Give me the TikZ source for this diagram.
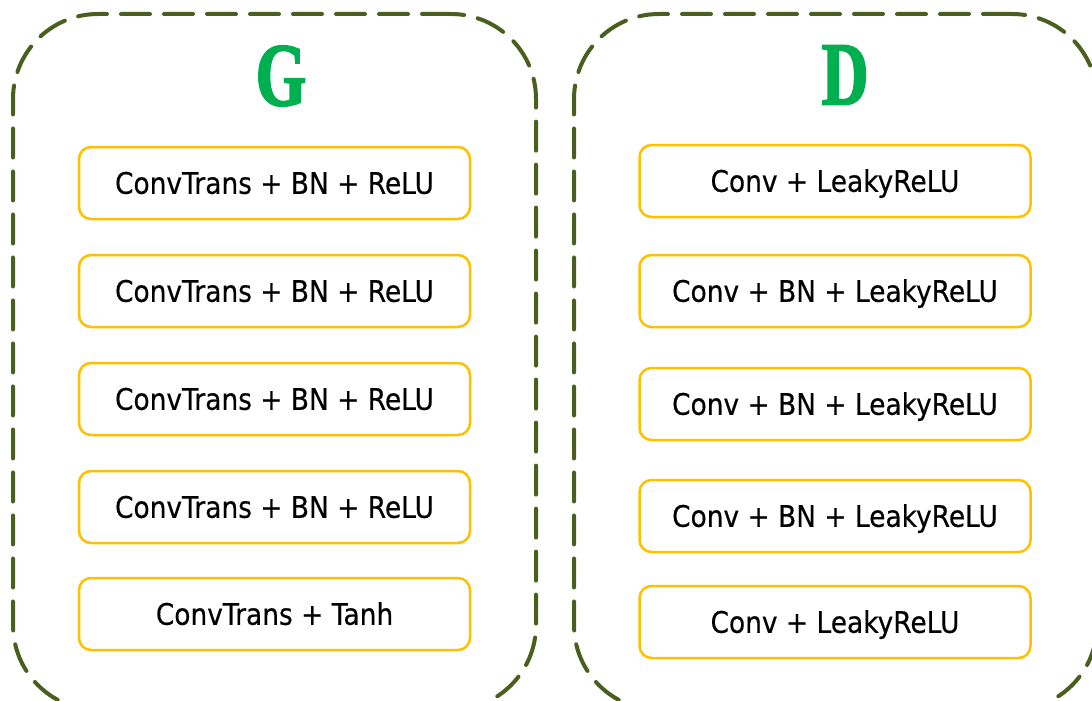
\documentclass[tikz,border=0pt]{standalone}
\usepackage{fontspec}
\newfontfamily\boxfont[FakeStretch=0.89,FakeBold=0.4]{DejaVu Sans}
\newfontfamily\bigfont[FakeStretch=0.72,FakeBold=2]{Liberation Serif Bold}
\definecolor{olive}{HTML}{4A5E1E}
\definecolor{gold}{HTML}{FFC000}
\definecolor{ggreen}{HTML}{00B050}
\tikzset{
  panel/.style={draw=olive, line width=4pt, dash pattern=on 29pt off 14pt, line cap=round,
    rounded corners=85pt, minimum width=523pt, minimum height=696pt, inner sep=0pt},
  blk/.style={draw=gold, line width=2.5pt, rounded corners=12pt, fill=white,
    minimum width=391pt, minimum height=72pt, inner sep=0pt,
    font=\boxfont\fontsize{29.7pt}{34pt}\selectfont, text height=21.6pt, text depth=0pt},
  title/.style={text=ggreen, inner sep=0pt, font=\bigfont\fontsize{90pt}{90pt}\selectfont}
}
\begin{document}
\begin{tikzpicture}[x=1pt,y=-1pt]
\useasboundingbox (0,0) rectangle (1092,701);
\node[panel] (G) at (274.5,362) {};
\node[panel] (D) at (835.5,362) {};
\node[title] (gt) at (281,76) {G};
\node[title] (dt) at (845,75) {D};
\node[blk] (g1) at (274.5,183) {ConvTrans + BN + ReLU};
\node[blk] (g2) at (274.5,291) {ConvTrans + BN + ReLU};
\node[blk] (g3) at (274.5,399) {ConvTrans + BN + ReLU};
\node[blk] (g4) at (274.5,507) {ConvTrans + BN + ReLU};
\node[blk] (g5) at (274.5,614) {ConvTrans + Tanh};
\node[blk] (d1) at (835,181) {Conv + LeakyReLU};
\node[blk] (d2) at (835,291) {Conv + BN + LeakyReLU};
\node[blk] (d3) at (835,404) {Conv + BN + LeakyReLU};
\node[blk] (d4) at (835,516) {Conv + BN + LeakyReLU};
\node[blk] (d5) at (835,622) {Conv + LeakyReLU};
\end{tikzpicture}
\end{document}
